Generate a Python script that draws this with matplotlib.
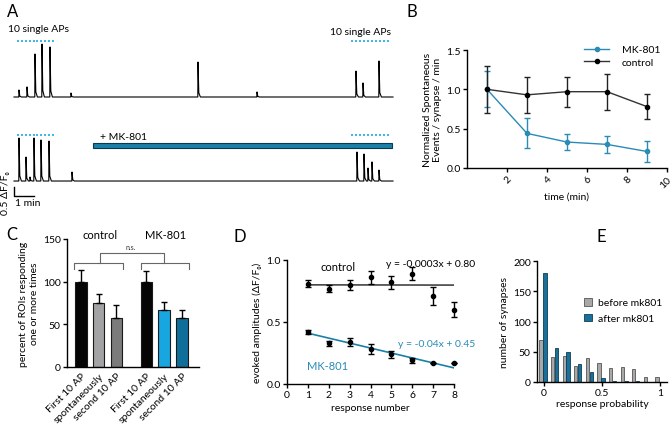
import numpy as np
import matplotlib
matplotlib.use('Agg')
import matplotlib.pyplot as plt
from matplotlib.patches import Rectangle
from matplotlib.lines import Line2D

plt.rcParams['font.family'] = ['Lato', 'DejaVu Sans']
plt.rcParams['font.size'] = 7
plt.rcParams['axes.linewidth'] = 1.0
plt.rcParams['xtick.major.width'] = 1.0
plt.rcParams['ytick.major.width'] = 1.0
plt.rcParams['xtick.major.size'] = 3
plt.rcParams['ytick.major.size'] = 3

# ---------------- data ----------------
# A: example traces (time in min, amplitude in dF/F)
top_spike_t = [0.25, 0.65, 1.05, 1.4, 1.8, 2.85, 9.2, 12.15, 17.1, 17.45, 18.25]
top_spike_amp = [0.39, 0.56, 2.39, 2.94, 2.78, 0.22, 1.94, 0.28, 1.44, 0.78, 2.0]
bot_spike_t = [0.25, 0.6, 0.8, 1.0, 1.35, 1.75, 2.9, 17.15, 17.5, 17.7, 17.9, 18.25]
bot_spike_amp = [2.39, 1.33, 0.22, 2.39, 2.28, 2.22, 0.5, 1.61, 1.5, 0.72, 1.06, 0.61]
trace_end = 18.95
stim1 = [0.2, 0.39, 0.59, 0.78, 0.98, 1.17, 1.37, 1.56, 1.76, 1.95]
stim2 = [16.9, 17.1, 17.3, 17.5, 17.7, 17.9, 18.1, 18.3, 18.5, 18.7]
mk_start, mk_end = 3.95, 18.9

# B: normalized spontaneous events
b_time = [1, 3, 5, 7, 9]
b_mk = [1.0, 0.44, 0.33, 0.30, 0.21]
b_mk_err = [0.23, 0.19, 0.10, 0.11, 0.13]
b_ctrl = [1.0, 0.93, 0.97, 0.97, 0.78]
b_ctrl_err = [0.30, 0.23, 0.19, 0.23, 0.16]

# C: percent of ROIs responding
c_labels = ['First 10 AP', 'spontaneously', 'second 10 AP',
            'First 10 AP', 'spontaneously', 'second 10 AP']
c_vals = [100, 75, 58, 100, 67, 57]
c_err = [14, 11, 15, 12, 9, 10]
c_colors = ['#050505', '#a3a3a6', '#7b7b7b', '#050505', '#17a6e0', '#0f6f9a']

# D: evoked amplitudes vs response number
d_x = [1, 2, 3, 4, 5, 6, 7, 8]
d_ctrl = [0.81, 0.77, 0.80, 0.86, 0.82, 0.89, 0.71, 0.60]
d_ctrl_err = [0.03, 0.03, 0.04, 0.05, 0.05, 0.05, 0.07, 0.06]
d_mk = [0.42, 0.33, 0.34, 0.28, 0.24, 0.19, 0.17, 0.17]
d_mk_err = [0.015, 0.02, 0.03, 0.04, 0.03, 0.02, 0.0, 0.0]
ctrl_fit = (-0.0003, 0.80)
mk_fit = (-0.04, 0.45)

# E: histogram of response probability
e_prob = [0, 0.1, 0.2, 0.3, 0.4, 0.5, 0.6, 0.7, 0.8, 0.9, 1.0]
e_before = [69, 42, 43, 27, 40, 32, 23, 24, 21, 9, 8]
e_after = [180, 57, 50, 30, 16, 7, 1, 2, 1, 0, 0]

TEAL = '#1b80a8'
LBLUE = '#3dbbe6'
MKC = '#2a8bb5'

W, H = 672, 431


def rect(l, t, r, b):
    return [l / W, 1 - b / H, (r - l) / W, (b - t) / H]


def trace(ts, amps, t_end, offset):
    x, y = [0.0], [offset]
    for t, a in zip(ts, amps):
        x += [t - 0.01, t, t + 0.04, t + 0.12]
        y += [offset, offset + a, offset + 0.12 * a, offset]
    x.append(t_end)
    y.append(offset)
    return x, y


def style(ax):
    ax.spines['top'].set_visible(False)
    ax.spines['right'].set_visible(False)
    ax.tick_params(direction='out', labelsize=7.5, pad=1.5)


fig = plt.figure(figsize=(6.72, 4.31), dpi=100)

# ---------------- A ----------------
axA = fig.add_axes(rect(0, 20, 420, 220))
axA.set_xlim(-0.7, 20.3)
axA.set_ylim(-2.11, 9.0)
axA.axis('off')
off = 4.667
x, y = trace(top_spike_t, top_spike_amp, trace_end, off)
axA.plot(x, y, color='black', lw=0.8)
x, y = trace(bot_spike_t, bot_spike_amp, trace_end, 0)
axA.plot(x, y, color='black', lw=0.8)
for row in [7.78, 2.56]:
    axA.plot(stim1, [row] * len(stim1), 's', ms=1.8, color=LBLUE, mew=0)
    axA.plot(stim2, [row] * len(stim2), 's', ms=1.8, color=LBLUE, mew=0)
axA.add_patch(Rectangle((mk_start, 1.83), mk_end - mk_start, 0.28,
                        fc=TEAL, ec='#0b3a4e', lw=0.8))
axA.text(4.3, 2.5, '+ MK-801', fontsize=7.5, va='center')
axA.text(-0.3, 8.5, '10 single APs', fontsize=7.5, va='center')
axA.text(15.8, 8.33, '10 single APs', fontsize=7.5, va='center')
axA.plot([0, 0, 1.0], [-0.33, -0.83, -0.83], color='black', lw=1)
axA.text(0.05, -1.2, '1 min', fontsize=7.5, va='center')
axA.text(-0.4, -0.6, '0.5 ΔF/Fₒ', fontsize=7.5, rotation=90, va='center', ha='center')

# ---------------- B ----------------
axB = fig.add_axes(rect(467, 51, 667, 169))
style(axB)
axB.errorbar(b_time, b_mk, yerr=b_mk_err, color=MKC, marker='o', ms=3,
             lw=1, capsize=2.5, elinewidth=1, clip_on=False)
axB.errorbar(b_time, b_ctrl, yerr=b_ctrl_err, color='#333333', mfc='black', mec='black',
             marker='o', ms=3, lw=1, capsize=2.5, elinewidth=1, ecolor='#222222',
             clip_on=False)
axB.set_xlim(0, 10)
axB.set_ylim(0, 1.5)
axB.set_xticks([2, 4, 6, 8, 10])
axB.set_yticks([0, 0.5, 1.0, 1.5])
axB.set_yticklabels(['0.0', '0.5', '1.0', '1.5'])
plt.setp(axB.get_xticklabels(), rotation=45, ha='right', rotation_mode='anchor')
axB.set_xlabel('time (min)', fontsize=7.5, labelpad=2)
axB.set_ylabel('Normalized Spontaneous\nEvents / synapse / min', fontsize=7.5, labelpad=3)
handles = [Line2D([], [], color=MKC, marker='o', ms=3, lw=1),
           Line2D([], [], color='#333333', mfc='black', mec='black', marker='o', ms=3, lw=1)]
axB.legend(handles, ['MK-801', 'control'], loc='upper left',
           bbox_to_anchor=(579 / W, 1 - 41 / H),
           bbox_transform=fig.transFigure, frameon=False, fontsize=7.5,
           handlelength=2.4, borderpad=0, labelspacing=0.3, handletextpad=1.2)

# ---------------- C ----------------
axC = fig.add_axes(rect(67, 240, 199, 368))
style(axC)
c_pos = [0, 1, 2, 3.7, 4.7, 5.7]
axC.bar(c_pos, c_vals, width=0.65, color=c_colors, edgecolor='#1a1a1a', lw=0.8)
axC.errorbar(c_pos, c_vals, yerr=[[0] * 6, c_err], fmt='none', ecolor='black',
             capsize=2.5, elinewidth=1, clip_on=False)
axC.set_xlim(-0.79, 6.67)
axC.set_ylim(0, 150)
axC.set_yticks([0, 50, 100, 150])
axC.set_xticks(c_pos)
axC.set_xticklabels(c_labels, rotation=45, ha='right', rotation_mode='anchor')
axC.tick_params(axis='x', length=0, pad=3)
axC.set_ylabel('percent of ROIs responding\none or more times', fontsize=7.5, labelpad=3)
gray = '#666666'
axC.plot([-0.4, -0.4, 2.37, 2.37], [115, 122, 122, 115], color=gray, lw=0.8, clip_on=False)
axC.plot([3.39, 3.39, 6.1, 6.1], [115, 122, 122, 115], color=gray, lw=0.8, clip_on=False)
axC.plot([1.07, 1.07, 4.69, 4.69], [122, 134, 134, 122], color=gray, lw=0.8, clip_on=False)
axC.text(2.8, 137, 'n.s.', fontsize=5, ha='center', va='bottom', color='#333333')
fig.text(100 / W, 1 - 236 / H, 'control', fontsize=8, ha='center', va='center')
fig.text(166 / W, 1 - 236 / H, 'MK-801', fontsize=8, ha='center', va='center')

# ---------------- D ----------------
axD = fig.add_axes(rect(287, 261, 454, 385))
style(axD)
xs = np.array([1, 8])
axD.plot(xs, ctrl_fit[0] * xs + ctrl_fit[1], color='#444444', lw=1.2)
axD.plot(xs, mk_fit[0] * xs + mk_fit[1], color=TEAL, lw=1.2)
axD.errorbar(d_x, d_ctrl, yerr=d_ctrl_err, fmt='o', color='black', ms=3,
             capsize=2, elinewidth=1, clip_on=False)
axD.errorbar(d_x, d_mk, yerr=d_mk_err, fmt='o', color='black', ms=3,
             capsize=2, elinewidth=1, clip_on=False)
axD.set_xlim(0, 8)
axD.set_ylim(0, 1.0)
axD.set_xticks(range(9))
axD.set_yticks([0, 0.5, 1.0])
axD.set_yticklabels(['0.0', '0.5', '1.0'])
axD.set_xlabel('response number', fontsize=7.5, labelpad=3)
axD.set_ylabel('evoked amplitudes (ΔF/Fₒ)', fontsize=7.5, labelpad=3)
axD.text(1.6, 0.95, 'control', fontsize=8, va='center')
axD.text(4.75, 0.97, 'y = -0.0003x + 0.80', fontsize=7.5, va='center', clip_on=False)
axD.text(5.3, 0.33, 'y = -0.04x + 0.45', fontsize=7.5, va='center', color=MKC)
axD.text(0.95, 0.15, 'MK-801', fontsize=8, va='center', color=MKC)

# ---------------- E ----------------
axE = fig.add_axes(rect(537, 262, 667, 383))
style(axE)
ep = np.array(e_prob)
axE.bar(ep - 0.026, e_before, width=0.028, color='#a8a8a8', edgecolor='#555555',
        lw=0.6, label='before mk801')
axE.bar(ep + 0.008, e_after, width=0.028, color='#1a7099', edgecolor='#0c3e55',
        lw=0.6, label='after mk801')
axE.set_xlim(-0.06, 1.06)
axE.set_ylim(0, 200)
axE.set_xticks([0, 0.5, 1])
axE.set_xticklabels(['0', '0.5', '1'])
axE.set_yticks([0, 50, 100, 150, 200])
axE.set_xlabel('response probability', fontsize=7.5, labelpad=1)
axE.set_ylabel('number of synapses', fontsize=7.5, labelpad=3)
axE.legend(loc='upper left', bbox_to_anchor=(579 / W, 1 - 294 / H),
           bbox_transform=fig.transFigure, frameon=False, fontsize=7.5,
           handlelength=0.7, handleheight=0.7, borderpad=0, labelspacing=0.6,
           handletextpad=0.6)

# panel letters
for lab, px, py in [('A', 13, 12), ('B', 412, 12), ('C', 12, 235),
                    ('D', 240, 237), ('E', 601, 237)]:
    fig.text(px / W, 1 - py / H, lab, fontsize=12, ha='center', va='center')

fig.savefig('out.png', dpi=100)
